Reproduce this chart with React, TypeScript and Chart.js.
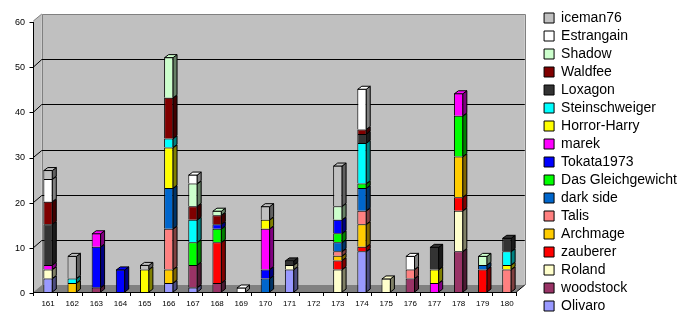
import React, { useEffect, useRef } from 'react';
import { Chart, registerables } from 'chart.js';

Chart.register(...registerables);

// ---- data ----
const categories = ['161', '162', '163', '164', '165', '166', '167', '168', '169', '170', '171', '172', '173', '174', '175', '176', '177', '178', '179', '180'];

const olivaro = [3, 0, 0, 0, 0, 2, 1, 0, 0, 0, 5, 0, 0, 9, 0, 0, 0, 0, 0, 0];
const woodstock = [0, 0, 1, 0, 0, 0, 5, 2, 0, 0, 0, 0, 0, 0, 0, 3, 0, 9, 0, 0];
const roland = [2, 0, 0, 0, 0, 0, 0, 0, 0, 0, 1, 0, 5, 0, 3, 0, 0, 9, 0, 0];
const zauberer = [0, 0, 0, 0, 0, 0, 0, 9, 0, 0, 0, 0, 2, 1, 0, 0, 0, 3, 5, 0];
const archmage = [0, 2, 0, 0, 0, 3, 0, 0, 0, 0, 0, 0, 1, 5, 0, 0, 0, 9, 0, 0];
const talis = [0, 0, 0, 0, 0, 9, 0, 0, 0, 0, 0, 0, 1, 3, 0, 2, 0, 0, 0, 5];
const darkSide = [0, 0, 0, 0, 0, 9, 0, 0, 0, 3, 0, 0, 2, 5, 0, 0, 0, 0, 1, 0];
const gleichgewicht = [0, 0, 0, 0, 0, 0, 5, 3, 0, 0, 0, 0, 2, 1, 0, 0, 0, 9, 0, 0];
const tokata1973 = [0, 0, 9, 5, 0, 0, 0, 1, 0, 2, 0, 0, 3, 0, 0, 0, 0, 0, 0, 0];
const marek = [1, 0, 3, 0, 0, 0, 0, 0, 0, 9, 0, 0, 0, 0, 0, 0, 2, 5, 0, 0];
const horrorHarry = [0, 0, 0, 0, 5, 9, 0, 0, 0, 2, 0, 0, 0, 0, 0, 0, 3, 0, 0, 1];
const steinschweiger = [0, 1, 0, 0, 0, 2, 5, 0, 0, 0, 0, 0, 0, 9, 0, 0, 0, 0, 0, 3];
const loxagon = [9, 0, 0, 0, 0, 0, 0, 0, 0, 0, 1, 0, 0, 2, 0, 0, 5, 0, 0, 3];
const waldfee = [5, 0, 0, 0, 0, 9, 3, 2, 0, 0, 0, 0, 0, 1, 0, 0, 0, 0, 0, 0];
const shadow = [0, 0, 0, 0, 0, 9, 5, 1, 0, 0, 0, 0, 3, 0, 0, 0, 0, 0, 2, 0];
const estrangain = [5, 0, 0, 0, 0, 0, 2, 0, 1, 0, 0, 0, 0, 9, 0, 3, 0, 0, 0, 0];
const iceman76 = [2, 5, 0, 0, 1, 0, 0, 0, 0, 3, 0, 0, 9, 0, 0, 0, 0, 0, 0, 0];

const seriesNames = ['Olivaro', 'woodstock', 'Roland', 'zauberer', 'Archmage', 'Talis', 'dark side', 'Das Gleichgewicht', 'Tokata1973', 'marek', 'Horror-Harry', 'Steinschweiger', 'Loxagon', 'Waldfee', 'Shadow', 'Estrangain', 'iceman76'];
const seriesValues = [olivaro, woodstock, roland, zauberer, archmage, talis, darkSide, gleichgewicht, tokata1973, marek, horrorHarry, steinschweiger, loxagon, waldfee, shadow, estrangain, iceman76];
const seriesColors = ['#9999FF', '#993366', '#FFFFCC', '#FF0000', '#FFCC00', '#FF8080', '#0066CC', '#00FF00', '#0000FF', '#FF00FF', '#FFFF00', '#00FFFF', '#333333', '#800000', '#CCFFCC', '#FFFFFF', '#C0C0C0'];

const yTickValues = [0, 10, 20, 30, 40, 50, 60];

// ---- style ----
const FONT = '"Liberation Sans", Arial, sans-serif';
const BAR_DX = 4;
const BAR_DY = -3;
const WALL_DX = 8.5;
const WALL_DY = -7;
const FRONT_SHIFT = -2.7;
const TICK_SHIFT = 1;

function shade(hex: string, f: number): string {
  const n = parseInt(hex.slice(1), 16);
  const r = Math.round(((n >> 16) & 255) * f);
  const g = Math.round(((n >> 8) & 255) * f);
  const b = Math.round((n & 255) * f);
  return `rgb(${r},${g},${b})`;
}

const excel3d = {
  id: 'excel3d',
  beforeDraw(chart: any) {
    const { ctx, chartArea } = chart;
    const xs = chart.scales.x;
    const ys = chart.scales.y;
    const n = categories.length;
    const w = (chartArea.right - chartArea.left) / n;
    const x0 = chartArea.left + FRONT_SHIFT;
    const xr = x0 + n * w;
    const yTop = ys.getPixelForValue(60);
    const y0 = ys.getPixelForValue(0);
    ctx.save();
    // side wall
    ctx.fillStyle = '#C0C0C0';
    ctx.beginPath();
    ctx.moveTo(x0, yTop);
    ctx.lineTo(x0 + WALL_DX, yTop + WALL_DY);
    ctx.lineTo(x0 + WALL_DX, y0 + WALL_DY);
    ctx.lineTo(x0, y0);
    ctx.closePath();
    ctx.fill();
    // back wall
    ctx.fillRect(x0 + WALL_DX, yTop + WALL_DY, xr - x0, y0 - yTop);
    ctx.strokeStyle = '#808080';
    ctx.lineWidth = 1;
    ctx.beginPath();
    ctx.moveTo(Math.round(x0 + WALL_DX) + 0.5, y0 + WALL_DY);
    ctx.lineTo(Math.round(x0 + WALL_DX) + 0.5, Math.round(yTop + WALL_DY) + 0.5);
    ctx.lineTo(Math.round(xr + WALL_DX) + 0.5, Math.round(yTop + WALL_DY) + 0.5);
    ctx.lineTo(Math.round(xr + WALL_DX) + 0.5, y0 + WALL_DY);
    ctx.moveTo(x0, yTop);
    ctx.lineTo(x0 + WALL_DX, yTop + WALL_DY);
    ctx.stroke();
    // floor
    ctx.fillStyle = '#808080';
    ctx.beginPath();
    ctx.moveTo(x0, y0);
    ctx.lineTo(x0 + WALL_DX, y0 + WALL_DY);
    ctx.lineTo(xr + WALL_DX, y0 + WALL_DY);
    ctx.lineTo(xr, y0);
    ctx.closePath();
    ctx.fill();
    ctx.strokeStyle = '#000';
    ctx.beginPath();
    ctx.moveTo(xr, y0);
    ctx.lineTo(xr + WALL_DX, y0 + WALL_DY);
    ctx.stroke();
    // gridlines
    ctx.strokeStyle = '#000';
    ctx.beginPath();
    yTickValues.forEach((v) => {
      if (v === 0 || v === 60) return;
      const yf = ys.getPixelForValue(v) + TICK_SHIFT;
      const yb = Math.round(ys.getPixelForValue(v) + WALL_DY) + 0.5;
      ctx.moveTo(x0, yf);
      ctx.lineTo(x0 + WALL_DX, yb);
      ctx.lineTo(xr + WALL_DX, yb);
    });
    ctx.stroke();
    // y axis line + ticks
    const ax = Math.round(x0) + 0.5;
    ctx.beginPath();
    ctx.moveTo(ax, yTop + TICK_SHIFT);
    ctx.lineTo(ax, y0 + TICK_SHIFT);
    yTickValues.forEach((v) => {
      const yy = Math.round(ys.getPixelForValue(v) + TICK_SHIFT) + 0.5;
      ctx.moveTo(ax - 4, yy);
      ctx.lineTo(ax, yy);
    });
    ctx.stroke();
    // x ticks
    ctx.beginPath();
    for (let k = 0; k <= n; k++) {
      const xx = Math.round(xs.getPixelForValue(0) - w / 2 + k * w + FRONT_SHIFT) + 0.5;
      ctx.moveTo(xx, y0);
      ctx.lineTo(xx, y0 + 4);
    }
    ctx.stroke();
    ctx.restore();
  },
  afterDatasetsDraw(chart: any) {
    const { ctx, chartArea } = chart;
    const ys = chart.scales.y;
    const n = categories.length;
    const w = (chartArea.right - chartArea.left) / n;
    const x0 = chartArea.left + FRONT_SHIFT;
    const xr = x0 + n * w;
    const y0 = Math.round(ys.getPixelForValue(0)) + 0.5;
    const tops: number[] = new Array(n).fill(-1);
    chart.data.datasets.forEach((ds: any, di: number) => {
      ds.data.forEach((v: any, i: number) => {
        if (v && v > 0) tops[i] = di;
      });
    });
    ctx.save();
    ctx.lineWidth = 1;
    ctx.strokeStyle = '#000';
    chart.data.datasets.forEach((ds: any, di: number) => {
      const meta = chart.getDatasetMeta(di);
      meta.data.forEach((el: any, i: number) => {
        const v = ds.data[i];
        if (!(v && v > 0)) return;
        const { x, y, base, width } = el.getProps(['x', 'y', 'base', 'width'], true);
        const l = x - width / 2;
        const r = x + width / 2 - 0.5;
        const t = Math.min(y, base) + 0.5;
        const b = Math.max(y, base);
        ctx.beginPath();
        ctx.moveTo(r, b);
        ctx.lineTo(r + BAR_DX, b + BAR_DY);
        ctx.lineTo(r + BAR_DX, t + BAR_DY);
        ctx.lineTo(r, t);
        ctx.closePath();
        ctx.fillStyle = shade(ds.backgroundColor, 0.5);
        ctx.fill();
        ctx.stroke();
        if (tops[i] === di) {
          ctx.beginPath();
          ctx.moveTo(l + 0.5, t);
          ctx.lineTo(l + 0.5 + BAR_DX, t + BAR_DY);
          ctx.lineTo(r + BAR_DX, t + BAR_DY);
          ctx.lineTo(r, t);
          ctx.closePath();
          ctx.fillStyle = ds.backgroundColor;
          ctx.fill();
          ctx.stroke();
        }
      });
    });
    // x axis front line
    ctx.beginPath();
    ctx.moveTo(Math.round(x0) + 0.5, y0);
    ctx.lineTo(xr, y0);
    ctx.stroke();
    ctx.restore();
  },
};

export default function App() {
  const canvasRef = useRef<HTMLCanvasElement>(null);

  useEffect(() => {
    document.body.style.margin = '0';
    const canvas = canvasRef.current;
    if (!canvas) return;
    const chart = new Chart(canvas, {
      type: 'bar',
      data: {
        labels: categories,
        datasets: seriesNames.map((name, i) => ({
          label: name,
          data: seriesValues[i].map((v) => (v === 0 ? null : v)),
          backgroundColor: seriesColors[i],
          borderColor: '#000000',
          borderWidth: 1,
          barPercentage: 0.39,
          categoryPercentage: 1,
        })),
      },
      options: {
        responsive: false,
        animation: false,
        devicePixelRatio: 1,
        layout: { padding: { top: 4, right: 3, left: 0, bottom: 0 } },
        plugins: {
          tooltip: { enabled: false },
          title: { display: false },
          legend: {
            display: true,
            position: 'right',
            align: 'center',
            reverse: true,
            maxWidth: 220,
            labels: {
              boxWidth: 10,
              boxHeight: 10,
              padding: 4,
              color: '#000',
              font: { family: FONT, size: 14 },
            },
          },
        },
        scales: {
          x: {
            stacked: true,
            offset: true,
            grid: { display: false, drawTicks: false },
            border: { display: false },
            ticks: { color: '#000', font: { family: FONT, size: 8 }, padding: 7, maxRotation: 0, autoSkip: false },
            afterFit: (s: any) => { s.height = 28; },
          },
          y: {
            stacked: true,
            min: 0,
            max: 60,
            grid: { display: false, drawTicks: false },
            border: { display: false },
            ticks: { stepSize: 10, color: '#000', font: { family: FONT, size: 9 }, padding: 11, labelOffset: 1.5 },
            afterFit: (s: any) => { s.width = 36; },
          },
          xPad: {
            type: 'linear',
            axis: 'x',
            position: 'top',
            display: true,
            grid: { display: false, drawTicks: false },
            border: { display: false },
            ticks: { display: false },
            afterFit: (s: any) => { s.height = 17; },
          },
          yPad: {
            type: 'linear',
            axis: 'y',
            position: 'right',
            display: true,
            grid: { display: false, drawTicks: false },
            border: { display: false },
            ticks: { display: false },
            afterFit: (s: any) => {
              const lw = s.chart.legend ? s.chart.legend.width : 0;
              s.width = Math.max(0, 690 - 3 - lw - 519);
            },
          },
        },
      } as any,
      plugins: [excel3d],
    });
    return () => chart.destroy();
  }, []);

  return (
    <div style={{ width: 690, height: 320 }}>
      <canvas ref={canvasRef} width={690} height={320} />
    </div>
  );
}
